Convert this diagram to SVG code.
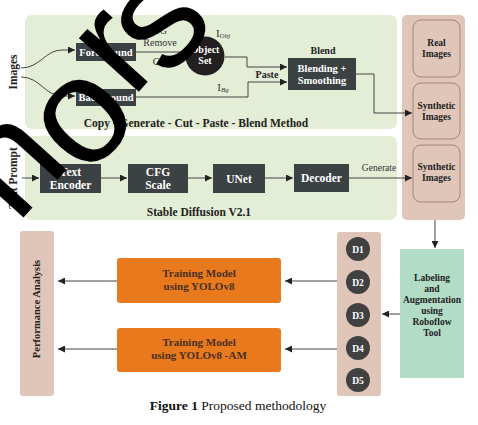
<svg xmlns="http://www.w3.org/2000/svg" width="478" height="425" viewBox="0 0 478 425">
<defs>
<marker id="ah" viewBox="0 0 10 10" refX="10" refY="5" markerWidth="7" markerHeight="7" orient="auto" markerUnits="userSpaceOnUse"><path d="M0,0 L10,5 L0,10 z" fill="#222"/></marker>
<style>
.g{fill:#e4edd6}
.br{fill:#dfc6b8}
.in{fill:#dfc6b8;stroke:#9b7463;stroke-width:0.8}
.dk{fill:#3c4144}
.wt{font-family:"Liberation Serif","Times New Roman","DejaVu Serif",serif;font-weight:bold;fill:#fff;text-anchor:middle}
.bt{font-family:"Liberation Serif","Times New Roman","DejaVu Serif",serif;font-weight:bold;fill:#222;text-anchor:middle}
.nt{font-family:"Liberation Serif","Times New Roman","DejaVu Serif",serif;fill:#333;text-anchor:middle}
.ln{fill:none;stroke:#444;stroke-width:1}
.ar{fill:none;stroke:#444;stroke-width:1;marker-end:url(#ah)}
.or{fill:#e8791c}
.ot{font-family:"Liberation Serif","Times New Roman","DejaVu Serif",serif;font-weight:bold;fill:#4a3020;text-anchor:middle;font-size:11px}
.dc{fill:#414141}
.wm{font-family:"Liberation Sans",sans-serif;font-size:152px;fill:#000;text-anchor:middle}
</style>
</defs>

<g id="panel-cgcpb"><rect class="g" x="25" y="15" width="372" height="114" rx="7"/><text class="bt" x="196" y="127" font-size="11.5">Copy - Generate - Cut - Paste - Blend Method</text></g>
<g id="panel-sd"><rect class="g" x="25" y="136" width="372" height="84" rx="7"/><text class="bt" x="199" y="216" font-size="11.5">Stable Diffusion V2.1</text></g>
<g id="panel-right"><rect class="br" x="402" y="15" width="63" height="205" rx="5"/></g>

<g id="label-images"><text class="bt" font-size="11.5" transform="translate(17,72) rotate(-90)">Images</text></g>
<g id="label-textprompt"><text class="bt" font-size="11.5" transform="translate(17,178) rotate(-90)">Text Prompt</text></g>

<g id="foreground"><rect class="dk" x="76" y="43" width="60" height="18"/><text class="wt" x="106" y="56" font-size="10.5">Foreground</text></g>
<g id="background"><rect class="dk" x="76" y="89" width="60" height="17"/><text class="wt" x="106" y="101" font-size="10.5">Background</text></g>
<g id="object-set"><circle cx="205" cy="56" r="19.5" fill="#231f20"/><text class="wt" x="205" y="53" font-size="10">Object</text><text class="wt" x="205" y="64" font-size="10">Set</text></g>
<g id="blend"><rect class="dk" x="288" y="58" width="68" height="32"/><text class="wt" x="322" y="72" font-size="10.5">Blending +</text><text class="wt" x="322" y="84" font-size="10.5">Smoothing</text></g>

<g id="real-images"><rect class="in" x="413" y="20" width="47" height="57" rx="8"/><text class="bt" x="436.5" y="46" font-size="9.5">Real</text><text class="bt" x="436.5" y="57" font-size="9.5">Images</text></g>
<g id="synthetic-1"><rect class="in" x="413" y="83" width="47" height="56" rx="8"/><text class="bt" x="436.5" y="109" font-size="9.5">Synthetic</text><text class="bt" x="436.5" y="120" font-size="9.5">Images</text></g>
<g id="synthetic-2"><rect class="in" x="413" y="145" width="47" height="57" rx="8"/><text class="bt" x="436.5" y="170" font-size="9.5">Synthetic</text><text class="bt" x="436.5" y="181" font-size="9.5">Images</text></g>

<g id="text-encoder"><rect class="dk" x="40" y="164" width="61" height="29"/><text class="wt" x="70.5" y="176" font-size="11.5">Text</text><text class="wt" x="70.5" y="189" font-size="11.5">Encoder</text></g>
<g id="cfg"><rect class="dk" x="128" y="164" width="60" height="29"/><text class="wt" x="158" y="176" font-size="11.5">CFG</text><text class="wt" x="158" y="189" font-size="11.5">Scale</text></g>
<g id="unet"><rect class="dk" x="213" y="164" width="52" height="29"/><text class="wt" x="239" y="182.5" font-size="11.5">UNet</text></g>
<g id="decoder"><rect class="dk" x="294" y="164" width="55" height="28"/><text class="wt" x="321.5" y="182" font-size="11.5">Decoder</text></g>

<g id="labeling"><rect x="400" y="249" width="64" height="129" fill="#b3dcc7"/>
<text class="bt" font-size="9.5" x="432" y="281">Labeling</text><text class="bt" font-size="9.5" x="432" y="292">and</text><text class="bt" font-size="9.5" x="432" y="303">Augmentation</text><text class="bt" font-size="9.5" x="432" y="314">using</text><text class="bt" font-size="9.5" x="432" y="325">Roboflow</text><text class="bt" font-size="9.5" x="432" y="336">Tool</text></g>

<g id="datasets"><rect class="br" x="337" y="232" width="44" height="164" rx="3"/>
<circle class="dc" cx="358" cy="249" r="12"/><text class="wt" x="358" y="253" font-size="9.5">D1</text>
<circle class="dc" cx="358" cy="282" r="12"/><text class="wt" x="358" y="286" font-size="9.5">D2</text>
<circle class="dc" cx="358" cy="315" r="12"/><text class="wt" x="358" y="319" font-size="9.5">D3</text>
<circle class="dc" cx="358" cy="348" r="12"/><text class="wt" x="358" y="352" font-size="9.5">D4</text>
<circle class="dc" cx="358" cy="380" r="12"/><text class="wt" x="358" y="384" font-size="9.5">D5</text></g>

<g id="train-yolov8"><rect class="or" x="117" y="258" width="164" height="45" rx="3"/><text class="ot" x="199" y="277">Training Model</text><text class="ot" x="199" y="290">using YOLOv8</text></g>
<g id="train-yolov8am"><rect class="or" x="117" y="328" width="164" height="44" rx="3"/><text class="ot" x="199" y="346">Training Model</text><text class="ot" x="199" y="359">using YOLOv8 -AM</text></g>

<g id="perf"><rect class="br" x="20" y="231" width="34" height="165" rx="3"/><text class="bt" font-size="10.5" transform="translate(40,309) rotate(-90)">Performance Analysis</text></g>

<g id="connectors">
<path class="ar" d="M21,68 C40,68 45,50 62,50 L75,50"/>
<path class="ar" d="M21,77 C40,77 45,96 62,96 L75,96"/>
<path class="ln" d="M136,52 L186,52"/>
<path class="ln" d="M225,57 L247,57 L247,67"/>
<path class="ar" d="M247,67 L287,67"/>
<path class="ln" d="M136,97 L248,97 L248,82"/>
<path class="ar" d="M248,82 L287,82"/>
<path class="ln" d="M356,74 L374,74 L374,113"/>
<path class="ar" d="M374,113 L412,113"/>
<path class="ar" d="M22,178 L39,178"/>
<path class="ar" d="M101,178 L127,178"/>
<path class="ar" d="M188,178 L212,178"/>
<path class="ar" d="M265,178 L293,178"/>
<path class="ar" d="M349,178 L412,178"/>
<path class="ar" d="M435,220 L435,248"/>
<path class="ar" d="M400,314 L382,314"/>
<path class="ar" d="M337,281 L285,281"/>
<path class="ar" d="M337,349 L285,349"/>
<path class="ar" d="M117,281 L58,281"/>
<path class="ar" d="M117,349 L58,349"/>
</g>

<g id="edge-labels">
<text class="nt" x="160" y="34" font-size="10">BG</text>
<text class="nt" x="160" y="46" font-size="10">Remove</text>
<text class="nt" x="160" y="65" font-size="10">Cut</text>
<text class="nt" x="223" y="37" font-size="11" text-anchor="start">I<tspan font-size="7" font-style="italic" dy="1">Obj</tspan></text>
<text class="nt" x="223" y="91" font-size="11" text-anchor="start">I<tspan font-size="7" font-style="italic" dy="1">Bg</tspan></text>
<text class="bt" x="267" y="78" font-size="10">Paste</text>
<text class="bt" x="323" y="54" font-size="10">Blend</text>
<text class="nt" x="379" y="171" font-size="9.5">Generate</text>
</g>

<g id="caption"><text x="238" y="410" font-family="Liberation Serif,Times New Roman,DejaVu Serif,serif" font-size="13.5" text-anchor="middle" fill="#111"><tspan font-weight="bold">Figure 1</tspan> Proposed methodology</text></g>

<g id="watermark">
<text class="wm" x="0" y="40" transform="translate(15,167) rotate(-48)">n</text>
<text class="wm" x="0" y="40" transform="translate(85,121) rotate(-48)">o</text>
<text class="wm" x="0" y="40" transform="translate(119,54) rotate(-48)">r</text>
<text class="wm" x="0" y="40" transform="translate(163,25) rotate(-48)">s</text>
</g>
</svg>
